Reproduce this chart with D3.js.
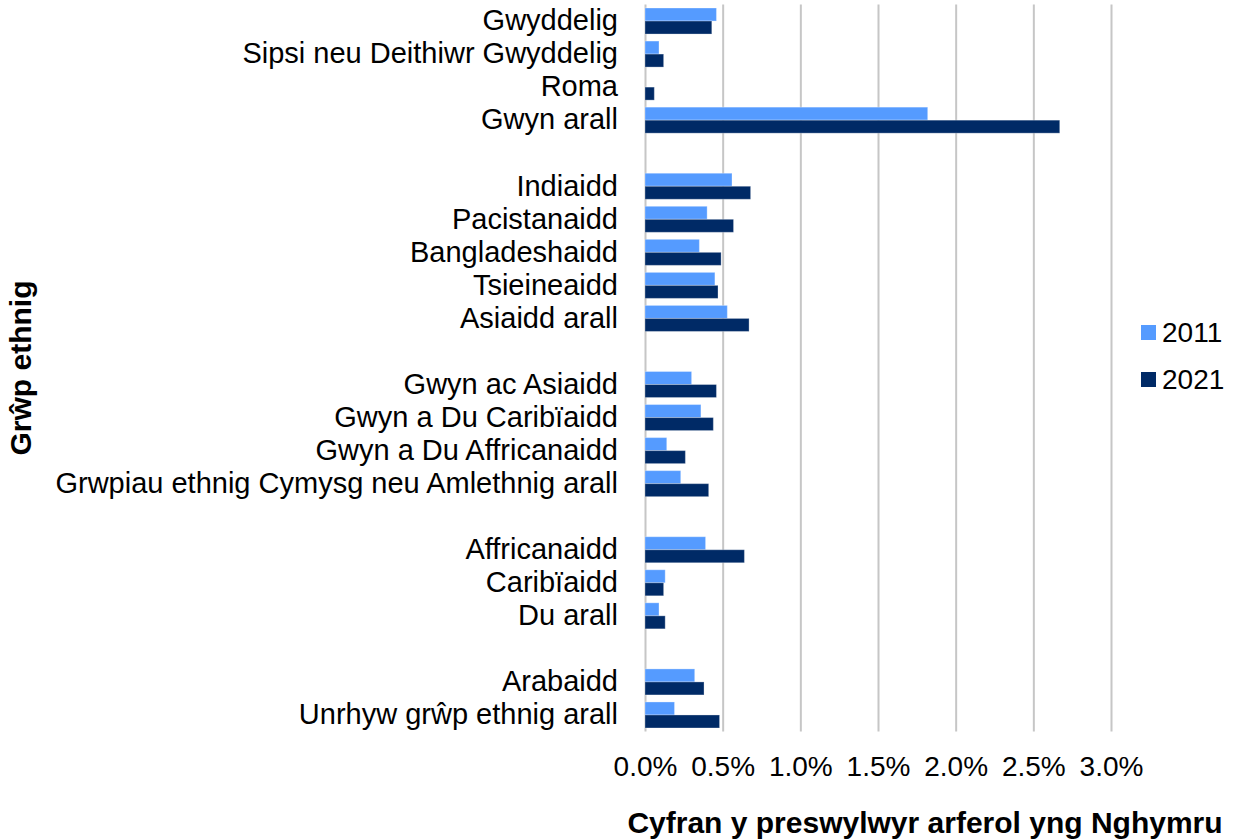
<!DOCTYPE html>
<html>
<head>
<meta charset="utf-8">
<script src="https://cdn.jsdelivr.net/npm/d3@7"></script>
<style>
  body { margin: 0; background: #fff; }
  text { font-family: "Liberation Sans", Arial, sans-serif; fill: #000; }
</style>
</head>
<body>
<script>
// categories in drawing order, split into groups by groupSizes
var categories = [
  "Gwyddelig", "Sipsi neu Deithiwr Gwyddelig", "Roma", "Gwyn arall",
  "Indiaidd", "Pacistanaidd", "Bangladeshaidd", "Tsieineaidd", "Asiaidd arall",
  "Gwyn ac Asiaidd", "Gwyn a Du Caribïaidd", "Gwyn a Du Affricanaidd", "Grwpiau ethnig Cymysg neu Amlethnig arall",
  "Affricanaidd", "Caribïaidd", "Du arall",
  "Arabaidd", "Unrhyw grŵp ethnig arall"
];
var groupSizes = [4, 5, 4, 3, 2];
var years = ["2011", "2021"];
var values2011 = [0.46, 0.09, 0, 1.82,
  0.56, 0.40, 0.35, 0.45, 0.53,
  0.30, 0.36, 0.14, 0.23,
  0.39, 0.13, 0.09,
  0.32, 0.19];
var values2021 = [0.43, 0.12, 0.06, 2.67,
  0.68, 0.57, 0.49, 0.47, 0.67,
  0.46, 0.44, 0.26, 0.41,
  0.64, 0.12, 0.13,
  0.38, 0.48];
var xTicks = [0, 0.5, 1.0, 1.5, 2.0, 2.5, 3.0];

var colors = {"2011": "#559bff", "2021": "#002a66"};

var width = 1234, height = 840;
var plotTop = 4.5, plotBottom = 731.5;

// row keys, with empty rows between groups
var rows = [];
var k = 0;
groupSizes.forEach(function(n, gi) {
  for (var i = 0; i < n; i++) { rows.push(categories[k]); k++; }
  if (gi < groupSizes.length - 1) rows.push("gap" + gi);
});

var data = categories.map(function(c, i) {
  return {cat: c, values: [
    {year: "2011", value: values2011[i]},
    {year: "2021", value: values2021[i]}
  ]};
});

var x = d3.scaleLinear().domain([0, 3.0]).range([645, 1111]);

var y = d3.scaleBand().domain(rows).range([plotTop, plotBottom]);
var ySub = d3.scaleBand().domain(years).range([0, y.bandwidth()]).paddingOuter(0.27);

var svg = d3.select("body").append("svg")
  .attr("width", width)
  .attr("height", height);

// gridlines
var grid = svg.append("g")
  .attr("transform", "translate(0," + plotBottom + ")")
  .call(d3.axisBottom(x).tickValues(xTicks).tickSize(-(plotBottom - plotTop)).tickFormat(""));
grid.select(".domain").remove();
grid.selectAll("line").attr("stroke", "#c6c6c6").attr("stroke-width", 2);

// bars
var rowG = svg.selectAll(".row")
  .data(data)
  .enter().append("g")
  .attr("class", "row")
  .attr("transform", function(d) { return "translate(0," + y(d.cat) + ")"; });

rowG.selectAll("rect")
  .data(function(d) { return d.values.filter(function(v) { return v.value > 0; }); })
  .enter().append("rect")
  .attr("x", x(0))
  .attr("y", function(d) { return ySub(d.year); })
  .attr("width", function(d) { return x(d.value) - x(0); })
  .attr("height", ySub.bandwidth())
  .attr("fill", function(d) { return colors[d.year]; })
  .attr("stroke", "#ffffff")
  .attr("stroke-opacity", 0.3)
  .attr("stroke-width", 1);

// category labels
var yAxis = svg.append("g")
  .attr("transform", "translate(" + x(0) + ",0)")
  .call(d3.axisLeft(y).tickSize(0).tickPadding(27)
    .tickFormat(function(d) { return d.indexOf("gap") === 0 ? "" : d; }));
yAxis.select(".domain").remove();
yAxis.selectAll("text")
  .attr("font-family", "Liberation Sans, Arial, sans-serif")
  .attr("font-size", 29)
  .attr("fill", "#000");

// x tick labels
var xAxis = svg.append("g")
  .attr("transform", "translate(0,753)")
  .call(d3.axisBottom(x).tickValues(xTicks).tickSize(0)
    .tickFormat(function(d) { return d.toFixed(1) + "%"; }));
xAxis.select(".domain").remove();
xAxis.selectAll("text")
  .attr("font-family", "Liberation Sans, Arial, sans-serif")
  .attr("font-size", 28)
  .attr("fill", "#000");

// axis titles
svg.append("text")
  .attr("x", 925)
  .attr("y", 833)
  .attr("text-anchor", "middle")
  .attr("font-size", 30)
  .attr("font-weight", "bold")
  .text("Cyfran y preswylwyr arferol yng Nghymru");

svg.append("text")
  .attr("transform", "translate(31,368) rotate(-90)")
  .attr("text-anchor", "middle")
  .attr("font-size", 30)
  .attr("font-weight", "bold")
  .text("Grŵp ethnig");

// legend
var legend = svg.selectAll(".legend")
  .data(years)
  .enter().append("g")
  .attr("class", "legend")
  .attr("transform", function(d, i) { return "translate(1141," + (325 + i * 47) + ")"; });

legend.append("rect")
  .attr("width", 15)
  .attr("height", 15)
  .attr("fill", function(d) { return colors[d]; });

legend.append("text")
  .attr("x", 21)
  .attr("y", 7.5)
  .attr("dy", "0.35em")
  .attr("font-size", 28)
  .text(function(d) { return d; });
</script>
</body>
</html>
